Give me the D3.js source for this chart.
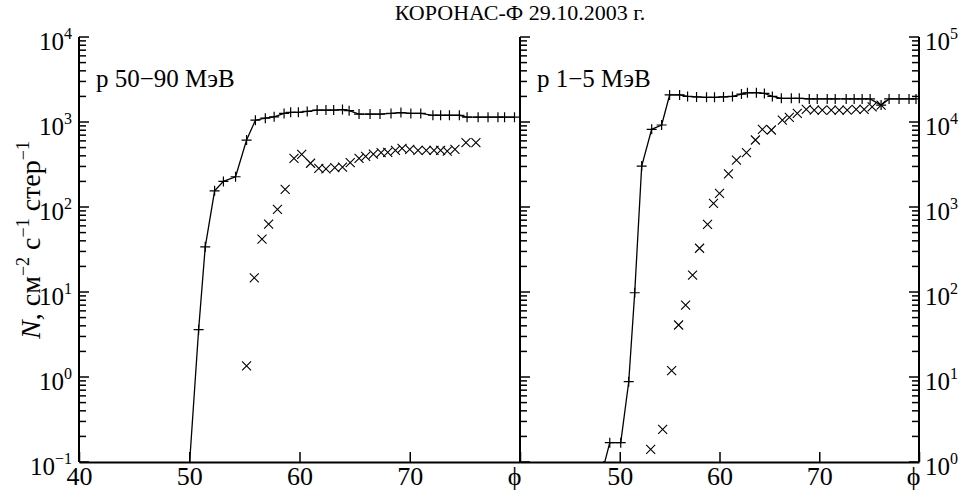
<!DOCTYPE html>
<html>
<head>
<meta charset="utf-8">
<script src="https://cdn.jsdelivr.net/npm/d3@7"></script>
<style>
  body { margin: 0; background: #fff; }
  svg { display: block; }
  svg text { font-family: "Liberation Serif", "Times New Roman", "DejaVu Serif", serif; }
</style>
</head>
<body>
<svg id="chart"></svg>
<script>
const chartTitle = "КОРОНАС-Ф 29.10.2003 г.";
const panelLabels = ["p 50−90 МэВ", "p 1−5 МэВ"];
const phiTicksLeft = [40, 50, 60, 70, 80];
const phiTicksRight = [50, 60, 70, 80];
const powersLeft = [-1, 0, 1, 2, 3, 4];
const powersRight = [0, 1, 2, 3, 4, 5];

// p 50-90 MeV, "+" series (joined by a line)
const leftPlusPhi = [50.0, 50.85, 51.45, 52.3, 53.1, 54.2, 55.2, 56.0, 56.9, 57.7, 58.6, 59.2, 59.9, 60.7,
  61.6, 62.4, 63.1, 63.9, 64.5, 65.4, 66.4, 67.3, 68.3, 69.2, 70.1, 71.0, 72.1, 72.8, 73.6, 74.5,
  75.2, 76.2, 77.1, 78.0, 78.6, 79.5];
const leftPlusN = [0.085, 3.6, 34, 155, 200, 227, 613, 1050, 1110, 1150, 1260, 1300, 1300, 1330,
  1380, 1380, 1380, 1400, 1360, 1240, 1240, 1240, 1260, 1290, 1260, 1260, 1200, 1200, 1200, 1200,
  1140, 1140, 1140, 1140, 1140, 1140];
// p 50-90 MeV, "x" series
const leftCrossPhi = [55.2, 55.9, 56.6, 57.2, 58.0, 58.7, 59.5, 60.2, 61.0, 61.75, 62.4, 63.2, 63.9, 64.6,
  65.4, 66.0, 66.7, 67.4, 68.0, 68.7, 69.3, 70.0, 70.75, 71.5, 72.2, 72.8, 73.4, 74.1, 75.1, 76.0];
const leftCrossN = [1.35, 14.7, 42, 63, 94, 161, 374, 417, 327, 285, 281, 290, 295, 333,
  374, 395, 418, 435, 440, 463, 490, 475, 463, 463, 463, 465, 455, 475, 572, 572];

// p 1-5 MeV, "+" series (joined by a line)
const rightPlusPhi = [48.4, 49.0, 50.1, 50.9, 51.5, 52.2, 53.2, 54.2, 55.0, 56.0, 56.8, 57.7, 58.7, 59.5,
  60.4, 61.3, 62.2, 62.8, 63.7, 64.5, 65.3, 66.2, 67.2, 68.0, 69.0, 69.8, 70.8, 71.6, 72.7, 73.5,
  74.3, 75.1, 76.2, 77.0, 78.0, 79.0, 79.7];
const rightPlusN = [0.9, 1.69, 1.69, 8.8, 98, 3030, 8200, 9220, 20800, 20800, 20000, 19700, 19500, 19500,
  19700, 20000, 21300, 22100, 22100, 21700, 20000, 19000, 19000, 19000, 18700, 18700, 18700, 18700, 18700, 18700,
  18700, 18700, 15800, 18700, 18700, 18700, 18700];
// p 1-5 MeV, "x" series
const rightCrossPhi = [53.1, 54.3, 55.2, 55.9, 56.6, 57.3, 58.0, 58.8, 59.4, 60.0, 60.9, 61.7, 62.7, 63.6,
  64.3, 65.2, 66.3, 67.0, 67.8, 68.7, 69.5, 70.3, 71.2, 72.0, 72.8, 73.7, 74.5, 75.3, 76.2];
const rightCrossN = [1.41, 2.42, 11.9, 40.9, 70, 158, 327, 626, 1100, 1450, 2450, 3570, 4350, 6140,
  8200, 8050, 10500, 11350, 12650, 14100, 13800, 13800, 13800, 13800, 13800, 14100, 14100, 15100, 15800];

const width = 964, height = 497;
const plotTop = 37, plotBottom = 462;
const serif = "Liberation Serif, Times New Roman, DejaVu Serif, serif";

const svg = d3.select("#chart")
  .attr("width", width)
  .attr("height", height)
  .attr("font-family", serif);

const panels = [
  {
    x: d3.scaleLinear().domain([40, 80]).range([79, 520]),
    y: d3.scaleLog().domain([0.1, 1e4]).range([plotBottom, plotTop]),
    powers: powersLeft, ticks: phiTicksLeft, label: panelLabels[0],
    plus: leftPlusPhi.map((p, i) => [p, leftPlusN[i]]),
    cross: leftCrossPhi.map((p, i) => [p, leftCrossN[i]]),
    axisX: 79, labelSide: "left"
  },
  {
    x: d3.scaleLinear().domain([40, 80]).range([520, 919]),
    y: d3.scaleLog().domain([1, 1e5]).range([plotBottom, plotTop]),
    powers: powersRight, ticks: phiTicksRight, label: panelLabels[1],
    plus: rightPlusPhi.map((p, i) => [p, rightPlusN[i]]),
    cross: rightCrossPhi.map((p, i) => [p, rightCrossN[i]]),
    axisX: 919, labelSide: "right"
  }
];

panels.forEach((pn, k) => {
  const x0 = pn.x.range()[0], x1 = pn.x.range()[1];
  const g = svg.append("g");

  g.append("clipPath").attr("id", "clip" + k)
    .append("rect").attr("x", x0).attr("y", plotTop).attr("width", x1 - x0).attr("height", plotBottom - plotTop);

  const plot = g.append("g").attr("clip-path", `url(#clip${k})`);

  plot.append("path")
    .datum(pn.plus)
    .attr("d", d3.line().x(d => pn.x(d[0])).y(d => pn.y(d[1])))
    .attr("fill", "none")
    .attr("stroke", "#000")
    .attr("stroke-width", 1.3);

  plot.selectAll(".plus")
    .data(pn.plus)
    .join("path")
    .attr("class", "plus")
    .attr("transform", d => `translate(${pn.x(d[0])},${pn.y(d[1])})`)
    .attr("d", "M-5,0H5M0,-5V5")
    .attr("stroke", "#000")
    .attr("stroke-width", 1.2);

  plot.selectAll(".cross")
    .data(pn.cross)
    .join("path")
    .attr("class", "cross")
    .attr("transform", d => `translate(${pn.x(d[0])},${pn.y(d[1])})`)
    .attr("d", "M-4.5,-4.5L4.5,4.5M-4.5,4.5L4.5,-4.5")
    .attr("stroke", "#000")
    .attr("stroke-width", 1.1);

  // x axis, ticks pointing up
  const xAxis = g.append("g")
    .attr("transform", `translate(0,${plotBottom})`)
    .call(d3.axisBottom(pn.x)
      .tickValues(pn.ticks)
      .tickSizeInner(-10)
      .tickSizeOuter(0)
      .tickPadding(5)
      .tickFormat(d => d === 80 ? "ϕ" : d));
  xAxis.attr("font-family", serif).attr("font-size", 26);
  xAxis.select(".domain").attr("stroke-width", 2);
  xAxis.selectAll(".tick line").attr("stroke-width", 1.5);
  xAxis.selectAll(".tick text")
    .attr("dx", d => d === 80 ? -6 : 0);

  // log y ticks on the panel's axis lines, pointing inward
  const axes = k === 1 ? [[x0, 1], [pn.axisX, -1]] : [[pn.axisX, 1]];
  axes.forEach(([ax, dir]) => {
    g.append("line")
      .attr("x1", ax).attr("x2", ax).attr("y1", plotTop).attr("y2", plotBottom)
      .attr("stroke", "#000").attr("stroke-width", 2);
    g.selectAll(null)
      .data(pn.y.ticks())
      .join("line")
      .attr("x1", ax)
      .attr("x2", d => ax + dir * (Number.isInteger(Math.log10(d)) ? 10 : 7))
      .attr("y1", d => pn.y(d)).attr("y2", d => pn.y(d))
      .attr("stroke", "#000").attr("stroke-width", 1.5);
  });

  // decade labels
  const lab = g.selectAll(".ylab")
    .data(pn.powers)
    .join("text")
    .attr("class", "ylab")
    .attr("x", pn.labelSide === "left" ? 72 : 925)
    .attr("y", d => pn.y(Math.pow(10, d)) + 13)
    .attr("text-anchor", pn.labelSide === "left" ? "end" : "start")
    .attr("font-size", 25);
  lab.append("tspan").text("10");
  lab.append("tspan").attr("dy", -11).attr("font-size", 16)
    .text(d => d < 0 ? "−" + Math.abs(d) : d);

  g.append("text")
    .attr("x", x0 + 17)
    .attr("y", 87)
    .attr("font-size", 25)
    .text(pn.label);
});

svg.append("text")
  .attr("x", 520)
  .attr("y", 20)
  .attr("text-anchor", "middle")
  .attr("font-size", 22)
  .text(chartTitle);

const yTitle = svg.append("text")
  .attr("transform", "translate(40,240) rotate(-90)")
  .attr("text-anchor", "middle")
  .attr("font-size", 28);
yTitle.append("tspan").attr("font-style", "italic").text("N");
yTitle.append("tspan").text(", см");
yTitle.append("tspan").attr("dy", -11).attr("font-size", 18).text("−2");
yTitle.append("tspan").attr("dy", 11).text(" с");
yTitle.append("tspan").attr("dy", -11).attr("font-size", 18).text("−1");
yTitle.append("tspan").attr("dy", 11).text(" стер");
yTitle.append("tspan").attr("dy", -11).attr("font-size", 18).text("−1");
</script>
</body>
</html>
